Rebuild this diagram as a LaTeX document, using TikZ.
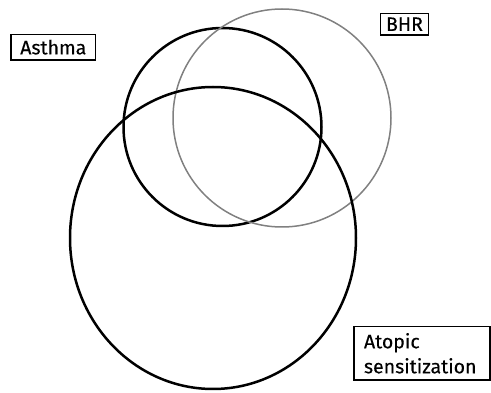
\documentclass[tikz,border=0pt]{standalone}
\usepackage{fontspec}
\setmainfont[Ligatures=NoCommon,FakeBold=0.3]{Fira Sans}
\usetikzlibrary{shapes.geometric}
\begin{document}
\begin{tikzpicture}[x=1pt,y=-1pt,
  lbl/.style={draw,line width=1.2pt,inner sep=0pt,font=\fontsize{19.5}{25}\selectfont},
  dark/.style={draw=black,line width=2.5pt},
  light/.style={draw=black!50,line width=1.5pt}]
\useasboundingbox (0,0) rectangle (491,393);
\node[dark,circle,minimum size=198pt,inner sep=0pt] (asthma) at (222.5,127) {};
\node[light,circle,minimum size=218pt,inner sep=0pt] (bhr) at (282,118) {};
\node[dark,ellipse,minimum width=286pt,minimum height=302pt,inner sep=0pt] (atopic) at (213,238) {};
\node[lbl,minimum width=84.7pt,minimum height=25.7pt] (la) at (53.3,47.2) {Asthma};
\node[lbl,minimum width=47.6pt,minimum height=21.7pt] (lb) at (404.5,24.2) {BHR};
\node[lbl,minimum width=136pt,minimum height=53.3pt,align=left,text width=116pt] (lc) at (422,353.3) {Atopic\\sensitization};
\end{tikzpicture}
\end{document}
